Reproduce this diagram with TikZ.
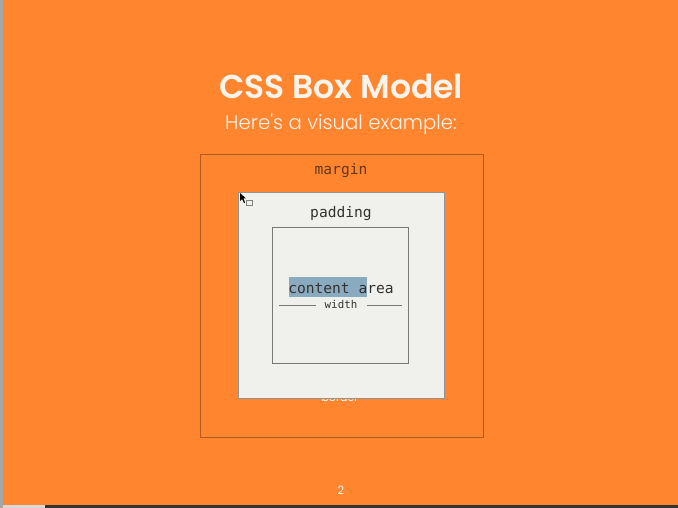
\documentclass[tikz,border=0pt]{standalone}
\usepackage{fontspec}
\setmainfont{Poppins}
\newfontfamily\monofnt{DejaVu Sans Mono}
\newfontfamily\titlefnt{Poppins}[UprightFont=* SemiBold]
\newfontfamily\subfnt{Poppins}[UprightFont=* Light]
\definecolor{bgorange}{RGB}{255,133,47}
\definecolor{marginline}{RGB}{180,90,30}
\definecolor{marginText}{RGB}{100,55,25}
\definecolor{boxfill}{RGB}{240,240,236}
\definecolor{boxline}{RGB}{120,120,120}
\definecolor{hilite}{RGB}{138,170,192}
\definecolor{titlewhite}{RGB}{248,244,236}
\definecolor{darktext}{RGB}{50,50,50}
\begin{document}
\begin{tikzpicture}[x=1pt,y=-1pt,
  boxlabel/.style={font=\monofnt\fontsize{14.6}{16}\selectfont, inner sep=0pt},
  thinline/.style={line width=0.6pt}]
\useasboundingbox (0,0) rectangle (678,508);
% background
\fill[bgorange] (0,0) rectangle (678,508);
\fill[gray!70] (0,0) rectangle (3,508);
\fill[black!80] (45,505) rectangle (678,508);
\fill[gray!30] (3,505) rectangle (45,508);
% title
\node[font=\titlefnt\fontsize{33}{36}\selectfont, text=titlewhite, inner sep=0pt] (title) at (341,86) {CSS Box Model};
\node[font=\subfnt\fontsize{19.7}{22}\selectfont, text=titlewhite, inner sep=0pt] (sub) at (341,124) {Here's a visual example:};
% margin box
\node[draw=marginline, thinline, minimum width=283pt, minimum height=283pt, inner sep=0pt] (marginbox) at (341.5,295.5) {};
\node[boxlabel, text=marginText, anchor=base] (marginlbl) at (341,175) {margin};
% border label (partly hidden behind box)
\node[font=\fontsize{11}{13}\selectfont, text=white, inner sep=0pt] (borderlbl) at (340,397.5) {border};
% border box
\node[draw=boxline!80, fill=boxfill, thinline, minimum width=206pt, minimum height=206pt, inner sep=0pt] (borderbox) at (341,295) {};
\node[boxlabel, text=darktext, anchor=base] (paddinglbl) at (341,218) {padding};
% content box
\node[draw=boxline, thinline, minimum width=136pt, minimum height=136pt, inner sep=0pt] (contentbox) at (340,295) {};
% highlight
\fill[hilite] (289,277) rectangle (367,297);
\node[boxlabel, text=darktext, anchor=base] (contentlbl) at (341,293) {content area};
% width
\node[font=\monofnt\fontsize{10.8}{12}\selectfont, text=darktext, inner sep=0pt] (widthlbl) at (341,304.5) {width};
\coordinate (wl) at (279,305);
\coordinate (wr) at (402,305);
\draw[boxline, line width=0.6pt] (wl) -- (316,305);
\draw[boxline, line width=0.6pt] (367,305) -- (wr);
% cursor
\fill[black] (240,193) -- (240,201) -- (242,199) -- (244,203) -- (245,202.5) -- (243.5,198.5) -- (246,198.5) -- cycle;
\draw[gray, line width=0.5pt] (246.5,200.5) rectangle (252,205.5);
% page number
\node[font=\fontsize{11.5}{13}\selectfont, text=titlewhite, inner sep=0pt] (pagenum) at (341,490) {2};
\end{tikzpicture}
\end{document}
